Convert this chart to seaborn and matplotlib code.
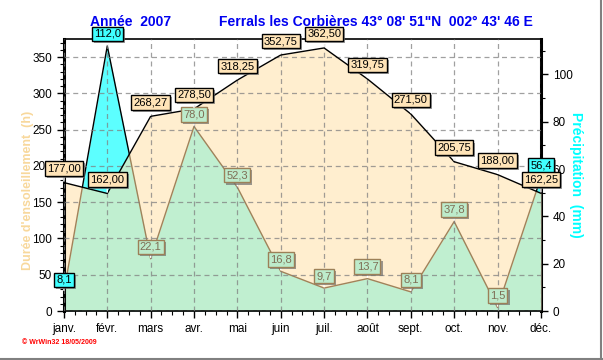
import matplotlib
matplotlib.use("Agg")
import matplotlib.pyplot as plt
import matplotlib.patheffects as pe
from matplotlib.ticker import MultipleLocator
from matplotlib.lines import Line2D
import seaborn as sns
import pandas as pd

months = ['janv.', 'févr.', 'mars', 'avr.', 'mai', 'juin', 'juil.', 'août',
          'sept.', 'oct.', 'nov.', 'déc.']
sunshine = [177.00, 162.00, 268.27, 278.50, 318.25, 352.75, 362.50, 319.75,
            271.50, 205.75, 188.00, 162.25]
rain = [8.1, 112.0, 22.1, 78.0, 52.3, 16.8, 9.7, 13.7, 8.1, 37.8, 1.5, 56.4]

title_left = 'Année  2007'
title_right = 'Ferrals les Corbières 43° 08\' 51"N  002° 43\' 46 E'
ylabel_left = "Durée d'ensoleillement  (h)"
ylabel_right = 'Précipitation  (mm)'
stamp = '© WrWin32 18/05/2009'

sns.set_style("white")
plt.rcParams['font.family'] = ['Liberation Sans', 'DejaVu Sans']

df = pd.DataFrame({'mois': range(len(months)), 'soleil': sunshine, 'pluie': rain})

fig = plt.figure(figsize=(6.03, 3.6), dpi=100)
ax = fig.add_axes([0.106, 0.136, 0.791, 0.756])
ax2 = ax.twinx()
ax.set_zorder(ax2.get_zorder() + 1)
ax.patch.set_visible(False)

# rain area (cyan where it rises above the sunshine area)
ax2.fill_between(df['mois'], 0, df['pluie'], color='#5CFFFF', lw=0)
sns.lineplot(data=df, x='mois', y='pluie', ax=ax2, color='black', lw=1)

# sunshine area
sun_fill = ax.fill_between(df['mois'], 0, df['soleil'], color='#FFEECF', lw=0, zorder=1)
clip = sun_fill.get_paths()[0]

# rain inside sunshine area -> green
green = ax.fill_between(df['mois'], 0, df['pluie'], transform=ax2.transData,
                        color='#C0EFD0', lw=0, zorder=1.5)
green.set_clip_path(clip, ax.transData)
brown, = ax.plot(df['mois'], df['pluie'], transform=ax2.transData,
                 color='#A0825A', lw=1, zorder=1.8)
brown.set_clip_path(clip, ax.transData)

sns.lineplot(data=df, x='mois', y='soleil', ax=ax, color='black', lw=1, zorder=3)

ax.set_xlim(0, len(months) - 1)
ax.set_ylim(0, 375)
ax2.set_ylim(0, 115)
ax.set_xlabel('')
ax.set_ylabel('')
ax2.set_ylabel('')

ax.set_xticks(range(len(months)), months)
ax.xaxis.set_minor_locator(MultipleLocator(0.25))
ax.yaxis.set_major_locator(MultipleLocator(50))
ax.yaxis.set_minor_locator(MultipleLocator(10))
ax2.yaxis.set_major_locator(MultipleLocator(20))
ax2.yaxis.set_minor_locator(MultipleLocator(10))

ax.tick_params(which='both', direction='out', bottom=True, left=True, right=False,
               colors='black', labelsize=8.5)
ax.tick_params(which='major', length=5, width=1)
ax.tick_params(which='minor', length=3, width=0.8)
ax2.tick_params(which='both', direction='out', right=True, left=False,
                colors='black', labelsize=8.5)
ax2.tick_params(which='major', length=5, width=1)
ax2.tick_params(which='minor', length=3, width=0.8)

ax.set_axisbelow(False)
ax.grid(True, which='major', color='#808080', ls=(0, (4, 3)), lw=0.9, alpha=0.75)

for s in ['left', 'top', 'bottom']:
    ax.spines[s].set_color('black')
ax.spines['left'].set_linewidth(2.2)
ax.spines['top'].set_linewidth(1.2)
ax.spines['bottom'].set_linewidth(1.2)
ax.spines['right'].set_visible(False)
for s in ['left', 'top', 'bottom']:
    ax2.spines[s].set_visible(False)
ax2.spines['right'].set_color('black')
ax2.spines['right'].set_linewidth(2.2)

shadow = [pe.SimplePatchShadow(offset=(1.5, -1.5), shadow_rgbFace='#707070', alpha=0.7),
          pe.Normal()]

# sunshine value labels
for i, v in enumerate(sunshine):
    t = ax.annotate(f"{v:.2f}".replace('.', ','), xy=(i, v), xytext=(0, 14),
                    textcoords='offset pixels', ha='center', va='center', fontsize=8,
                    color='black', zorder=10,
                    bbox=dict(boxstyle='square,pad=0.2', fc='#FFE4B8', ec='black', lw=1),
                    arrowprops=dict(arrowstyle='-', color='white', lw=1, shrinkA=0, shrinkB=1))
    t.get_bbox_patch().set_path_effects(shadow)

# rain value labels
cyan_labels = {0, 1, len(rain) - 1}
for i, v in enumerate(rain):
    if i in cyan_labels:
        fc, ec, tc = '#40FFFF', 'black', 'black'
    else:
        fc, ec, tc = '#BDEBCB', '#9C8058', '#7E6E55'
    t = ax.annotate(f"{v:.1f}".replace('.', ','), xy=(i, v), xycoords=ax2.transData,
                    xytext=(0, 12), textcoords='offset pixels', ha='center', va='center',
                    fontsize=8, color=tc, zorder=9,
                    bbox=dict(boxstyle='square,pad=0.2', fc=fc, ec=ec, lw=1),
                    arrowprops=dict(arrowstyle='-', color='white', lw=1, shrinkA=0, shrinkB=1))
    t.get_bbox_patch().set_path_effects(shadow)

fig.text(90 / 603, 1 - 22 / 360, title_left, ha='left', va='center',
         color='#0000F0', fontsize=10, fontweight='bold')
fig.text(219 / 603, 1 - 22 / 360, title_right, ha='left', va='center',
         color='#0000F0', fontsize=10, fontweight='bold')
fig.text(28 / 603, 1 - 190 / 360, ylabel_left, rotation=90, ha='center', va='center',
         color='#F8D89C', fontsize=9, fontweight='bold')
fig.text(576 / 603, 1 - 175 / 360, ylabel_right, rotation=-90, ha='center', va='center',
         color='#00FFFF', fontsize=10, fontweight='bold')
fig.text(22 / 603, 1 - 342 / 360, stamp, ha='left', va='center',
         color='red', fontsize=5, fontweight='bold')

fig.add_artist(Line2D([0.997, 0.997], [0, 1], transform=fig.transFigure,
                      color='#808080', lw=1.5))
fig.add_artist(Line2D([0, 1], [0.003, 0.003], transform=fig.transFigure,
                      color='#808080', lw=1.5))

fig.savefig('out.png', dpi=100)
